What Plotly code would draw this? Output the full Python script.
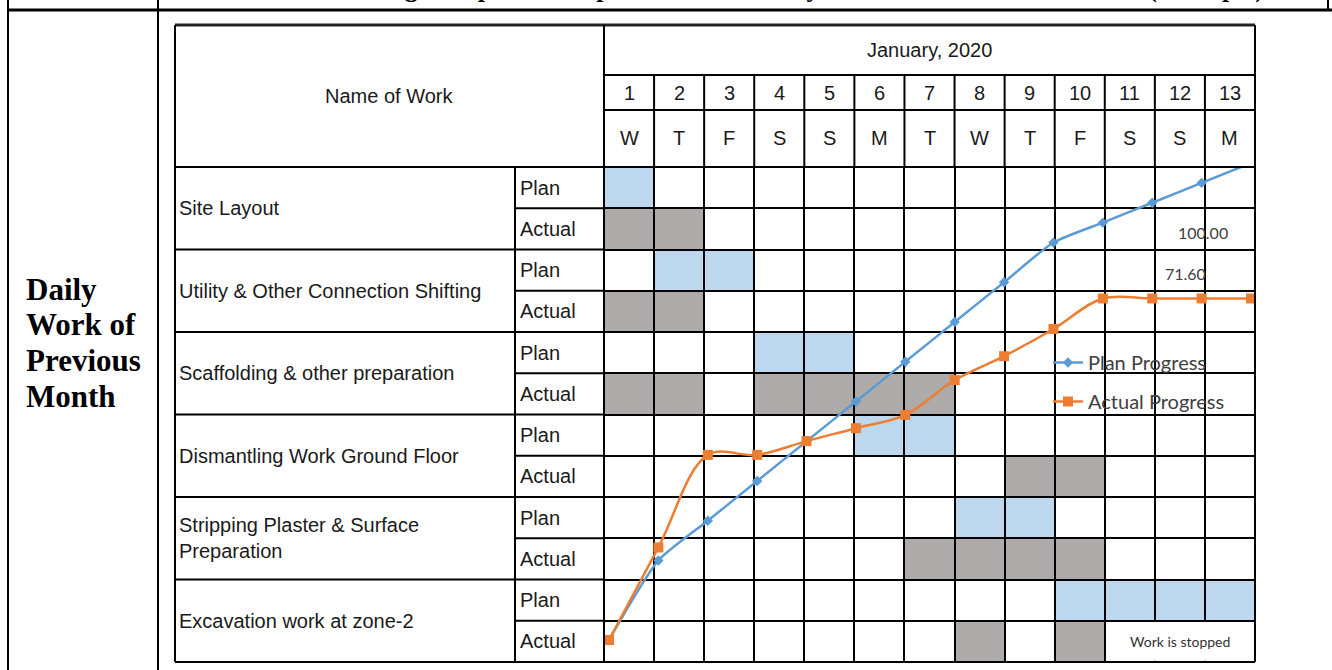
import plotly.graph_objects as go

# ---------------- data ----------------
month_label = "January, 2020"
days = list(range(1, 14))
weekdays = ["W", "T", "F", "S", "S", "M", "T", "W", "T", "F", "S", "S", "M"]
tasks = [
    "Site Layout",
    "Utility & Other Connection Shifting",
    "Scaffolding & other preparation",
    "Dismantling Work Ground Floor",
    "Stripping Plaster & Surface<br>Preparation",
    "Excavation work at zone-2",
]
row_kinds = ["Plan", "Actual"]
plan_days = [[1], [2, 3], [4, 5], [6, 7], [8, 9], [10, 11, 12, 13]]
actual_days = [[1, 2], [1, 2], [1, 2, 4, 5, 6, 7], [9, 10], [7, 8, 9, 10], [8, 10]]

progress_steps = list(range(0, 14))
plan_progress = [0, 16.67, 25.0, 33.33, 41.67, 50.0, 58.33, 66.67, 75.0, 83.33, 87.5, 91.67, 95.83, 100.0]
actual_progress = [0, 19.4, 38.8, 38.8, 41.7, 44.4, 47.2, 54.5, 59.5, 65.2, 71.6, 71.6, 71.6, 71.6]

stopped_note = "Work is stopped"
stopped_from_day = 11
side_label_lines = ["Daily", "Work of", "Previous", "Month"]
title_text = "Gantt Chart Showing Comparison of plan vs Actual Daily Work Status and the Results (Example)"

# ---------------- page geometry (pixels) ----------------
W, H = 1332, 670
TBL_X0, TBL_X1 = 175, 1255      # gantt table left / right edge
KIND_X = 515                    # Plan / Actual column
DAY_X0 = 604                    # first day column
Y_TOP, Y_MONTH, Y_NUM, Y_BODY, Y_END = 25, 75, 110, 167, 662
LINE_X0, LINE_X1 = 609, 1251    # progress curve: first / last step
LINE_Y0, LINE_Y100 = 640, 163   # progress curve: 0 % / 100 %

BLUE_CELL = "#BDD7EE"
GRAY_CELL = "#AEAAAA"
BLUE_LINE = "#5B9BD5"
ORANGE_LINE = "#ED7D31"
INK = "#1a1a1a"


def px(x):
    return x / W


def py(y):
    return 1 - y / H


n_rows = 2 * len(tasks)
row_h = (Y_END - Y_BODY) / n_rows

# cell states: 0 empty, 1 planned, 2 actual
z = [[0] * len(days) for _ in range(n_rows)]
for i, (p, a) in enumerate(zip(plan_days, actual_days)):
    for d in p:
        z[2 * i][d - 1] = 1
    for d in a:
        z[2 * i + 1][d - 1] = 2

fig = go.Figure()

fig.add_trace(go.Heatmap(
    x=days, y=list(range(n_rows)), z=z,
    zmin=0, zmax=2,
    colorscale=[[0, "white"], [0.33, "white"], [0.33, BLUE_CELL], [0.67, BLUE_CELL],
                [0.67, GRAY_CELL], [1, GRAY_CELL]],
    showscale=False, xgap=2, ygap=2, hoverinfo="skip",
))

fig.add_trace(go.Scatter(
    x=progress_steps, y=plan_progress, xaxis="x2", yaxis="y2",
    mode="lines+markers", name="Plan Progress", legendgroup="plan",
    line=dict(color=BLUE_LINE, width=2.5, shape="spline", smoothing=0.6),
    marker=dict(symbol="diamond", size=8, color=BLUE_LINE),
    cliponaxis=False, hoverinfo="skip",
))
fig.add_trace(go.Scatter(
    x=progress_steps, y=actual_progress, xaxis="x2", yaxis="y2",
    mode="lines+markers", name="Actual Progress", legendgroup="actual",
    line=dict(color=ORANGE_LINE, width=2.5, shape="spline", smoothing=1),
    marker=dict(symbol="square", size=10, color=ORANGE_LINE),
    cliponaxis=False, hoverinfo="skip",
))

# overlay axes for the progress curve, scaled so that step 0..13 and 0..100 %
# land on the chosen pixel positions inside the day grid
sx = (LINE_X1 - LINE_X0) / (progress_steps[-1] - progress_steps[0])
x2_range = [progress_steps[0] - (LINE_X0 - DAY_X0) / sx,
            progress_steps[-1] + (TBL_X1 - LINE_X1) / sx]
sy = (LINE_Y0 - LINE_Y100) / 100.0
y2_range = [0 - (Y_END - LINE_Y0) / sy, 100 + (LINE_Y100 - Y_BODY) / sy]

hidden = dict(visible=False, showgrid=False, zeroline=False, fixedrange=True)

shapes = []


def hline(y, x0, x1, w=2, color="black"):
    shapes.append(dict(type="line", xref="paper", yref="paper",
                       x0=px(x0), x1=px(x1), y0=py(y), y1=py(y),
                       line=dict(color=color, width=w)))


def vline(x, y0, y1, w=2, color="black"):
    shapes.append(dict(type="line", xref="paper", yref="paper",
                       x0=px(x), x1=px(x), y0=py(y0), y1=py(y1),
                       line=dict(color=color, width=w)))


# merged cell for the stopped-work note
shapes.append(dict(type="rect", xref="x", yref="y",
                   x0=stopped_from_day - 0.5 + 0.03, x1=days[-1] + 0.5,
                   y0=n_rows - 1.5 + 0.03, y1=n_rows - 0.5 - 0.03,
                   fillcolor="white", line=dict(width=0)))

# outer document table
hline(10, 8, W, w=3)
vline(8, 0, H, w=2)
vline(158, 0, H, w=2)
vline(1328, 0, 10, w=2)

# gantt table frame and header
hline(Y_TOP, TBL_X0, TBL_X1, w=3, color="#222")
hline(Y_END, TBL_X0, TBL_X1, w=2)
vline(TBL_X0, Y_TOP, Y_END, w=2)
vline(TBL_X1, Y_TOP, Y_END, w=2)
vline(DAY_X0, Y_TOP, Y_END, w=2)
vline(KIND_X, Y_BODY, Y_END, w=2)
hline(Y_MONTH, DAY_X0, TBL_X1)
hline(Y_NUM, DAY_X0, TBL_X1)
hline(Y_BODY, TBL_X0, TBL_X1)
for i in range(1, len(tasks)):
    hline(Y_BODY + 2 * i * row_h, TBL_X0, DAY_X0)
for i in range(len(tasks)):
    hline(Y_BODY + (2 * i + 1) * row_h, KIND_X, DAY_X0)
for d in days[:-1]:
    shapes.append(dict(type="line", xref="x", yref="paper", x0=d + 0.5, x1=d + 0.5,
                       y0=py(Y_MONTH), y1=py(Y_BODY), line=dict(color="black", width=2)))

ann = []
tfont = dict(family="Liberation Sans, Arial, sans-serif", size=20, color=INK)


def text(t, x, y, xref="paper", yref="paper", xanchor="center", font=tfont, **kw):
    ann.append(dict(text=t, xref=xref, yref=yref, x=x, y=y, xanchor=xanchor,
                    yanchor=kw.pop("yanchor", "middle"), showarrow=False, font=font, **kw))


serif = "Liberation Serif, Times New Roman, serif"
# document heading: only its lowest part falls inside the page
text("<b>" + title_text + "</b>", px(1266), py(5), xanchor="right", yanchor="bottom",
     font=dict(family=serif, size=26, color="black"))
for k, line in enumerate(side_label_lines):
    text("<b>" + line + "</b>", px(24), py(289 + 36 * k), xanchor="left",
         font=dict(family=serif, size=31, color="black"))

text("Name of Work", px((TBL_X0 + DAY_X0) / 2), py((Y_TOP + Y_BODY) / 2))
text(month_label, px((DAY_X0 + TBL_X1) / 2), py((Y_TOP + Y_MONTH) / 2))
for d, wd in zip(days, weekdays):
    text(str(d), d, py((Y_MONTH + Y_NUM) / 2), xref="x")
    text(wd, d, py((Y_NUM + Y_BODY) / 2), xref="x")
for i, t in enumerate(tasks):
    text(t, px(TBL_X0 + 2), py(Y_BODY + (2 * i + 1) * row_h), xanchor="left", align="left")
    for k, kind in enumerate(row_kinds):
        text(kind, px(KIND_X + 3), py(Y_BODY + (2 * i + k + 0.5) * row_h), xanchor="left")

# merged-cell note
text(stopped_note, (stopped_from_day + days[-1]) / 2, n_rows - 1, xref="x", yref="y",
     font=dict(family="Lato, Open Sans, sans-serif", size=14, color="#333"))

# end-of-curve value labels, placed relative to the final point of each curve
lab_font = dict(family="Lato, Open Sans, sans-serif", size=16, color="#404040")
for vals, dx, dy in [(plan_progress, -48, 69), (actual_progress, -66, -25)]:
    y_pix = LINE_Y0 - vals[-1] * sy
    text(f"{vals[-1]:.2f}", progress_steps[-1], py(y_pix + dy), xref="x2",
         xshift=dx, font=lab_font)

fig.update_layout(
    width=W, height=H, autosize=False,
    margin=dict(l=0, r=0, t=0, b=0, pad=0),
    paper_bgcolor="white", plot_bgcolor="black",
    xaxis=dict(domain=[px(DAY_X0), px(TBL_X1)], range=[0.5, 13.5], **hidden),
    yaxis=dict(domain=[py(Y_END), py(Y_BODY)], range=[n_rows - 0.5, -0.5], **hidden),
    xaxis2=dict(overlaying="x", range=x2_range, **hidden),
    yaxis2=dict(overlaying="y", range=y2_range, **hidden),
    shapes=shapes, annotations=ann,
    showlegend=True,
    legend=dict(x=px(1048), y=py(343), xanchor="left", yanchor="top",
                bgcolor="rgba(0,0,0,0)", tracegroupgap=10,
                font=dict(family="Lato, Open Sans, sans-serif", size=20, color="#404040")),
)

fig.write_html("out.html", config={"displayModeBar": False})
